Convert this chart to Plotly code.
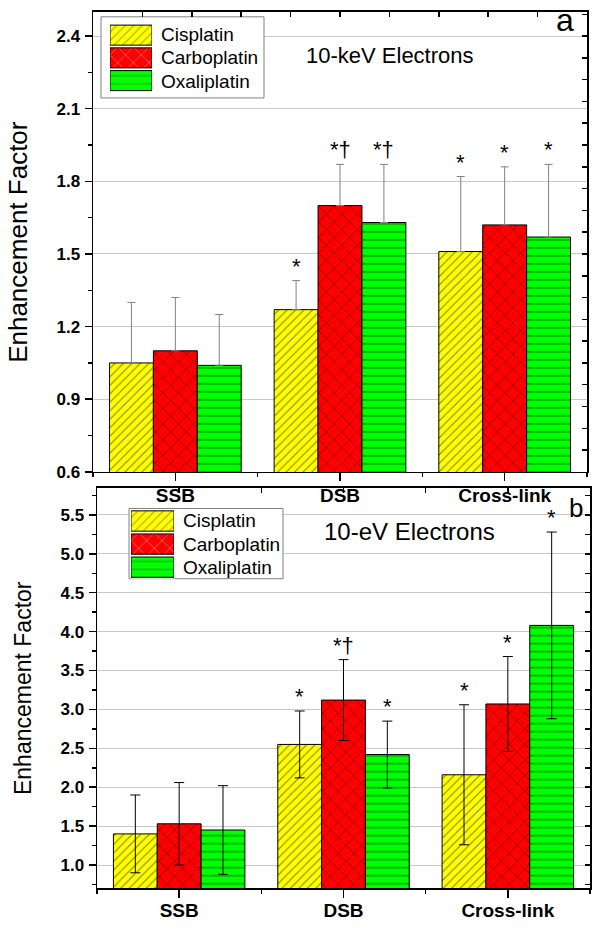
import plotly.graph_objects as go

# ---------------- data ----------------
categories = ["SSB", "DSB", "Cross-link"]
drugs = ["Cisplatin", "Carboplatin", "Oxaliplatin"]
colors = ["#FFFF00", "#FF0000", "#00FF00"]
patterns = ["/", "x", "-"]

# Panel a: 10-keV electrons
kev_cis = [1.05, 1.27, 1.51]
kev_carbo = [1.10, 1.70, 1.62]
kev_oxa = [1.04, 1.63, 1.57]
kev_cis_err = [0.25, 0.12, 0.31]
kev_carbo_err = [0.22, 0.17, 0.24]
kev_oxa_err = [0.21, 0.24, 0.30]
kev_cis_sig = ["", "*", "*"]
kev_carbo_sig = ["", "*†", "*"]
kev_oxa_sig = ["", "*†", "*"]

# Panel b: 10-eV electrons
ev_cis = [1.40, 2.55, 2.16]
ev_carbo = [1.53, 3.12, 3.07]
ev_oxa = [1.45, 2.42, 4.08]
ev_cis_err = [0.50, 0.43, 0.90]
ev_carbo_err = [0.53, 0.52, 0.61]
ev_oxa_err = [0.57, 0.43, 1.20]
ev_cis_sig = ["", "*", "*"]
ev_carbo_sig = ["", "*†", "*"]
ev_oxa_sig = ["", "*", "*"]

kev_vals = [kev_cis, kev_carbo, kev_oxa]
kev_errs = [kev_cis_err, kev_carbo_err, kev_oxa_err]
kev_sigs = [kev_cis_sig, kev_carbo_sig, kev_oxa_sig]
ev_vals = [ev_cis, ev_carbo, ev_oxa]
ev_errs = [ev_cis_err, ev_carbo_err, ev_oxa_err]
ev_sigs = [ev_cis_sig, ev_carbo_sig, ev_oxa_sig]

# ---------------- layout helpers ----------------
W, H = 602, 931
FONT = "Liberation Sans"
BARGAP = 0.2


def px(x):
    return x / W


def py(y):
    return 1 - y / H


# plot areas in pixels (left, right, top, bottom) and their data ranges
A = dict(l=93, r=587, t=12, b=477, x0=-0.5, x1=2.5, y0=0.6, y1=2.5)
B = dict(l=97, r=590, t=493, b=898, x0=-0.5, x1=2.5, y0=0.7, y1=5.85)

pos = list(range(len(categories)))
pat_size = [6, 11, 8]
pat_solid = [0.17, 0.12, 0.14]

fig = go.Figure()


def add_panel(vals, errs, xa, ya, err_style):
    for j, name in enumerate(drugs):
        fig.add_trace(go.Bar(
            x=pos, y=vals[j], name=name, offsetgroup=str(j),
            xaxis=xa, yaxis=ya, showlegend=False,
            marker=dict(color=colors[j],
                        line=dict(color="black", width=1),
                        pattern=dict(shape=patterns[j], fgcolor="black",
                                     size=pat_size[j], solidity=pat_solid[j])),
            error_y=dict(type="data", array=errs[j], **err_style),
        ))


add_panel(kev_vals, kev_errs, "x", "y",
          dict(symmetric=False, arrayminus=[0] * 3, color="#808080",
               thickness=1, width=4))
add_panel(ev_vals, ev_errs, "x2", "y2",
          dict(symmetric=True, color="black", thickness=1, width=5))

# legend swatches drawn as bars on small hidden axes
for xa, ya in (("x3", "y3"), ("x4", "y4")):
    fig.add_trace(go.Bar(
        orientation="h", y=list(range(len(drugs))), x=[1] * len(drugs),
        width=0.88, xaxis=xa, yaxis=ya, showlegend=False, hoverinfo="skip",
        marker=dict(color=colors, line=dict(color="black", width=1),
                    pattern=dict(shape=patterns, fgcolor="black",
                                 size=pat_size, solidity=pat_solid)),
    ))

# dummy traces so overlay tick axes get drawn
for xa, ya in (("x5", "y5"), ("x6", "y6")):
    fig.add_trace(go.Scatter(x=[None], y=[None], xaxis=xa, yaxis=ya,
                             showlegend=False, hoverinfo="skip"))

tickfont_y = dict(family=FONT, size=17, color="black", weight="bold")
tickfont_x = dict(family=FONT, size=19, color="black", weight="bold")


def xdict(dom, anchor, standoff):
    return dict(range=[-0.5, 2.5], tickmode="array", tickvals=pos,
                ticktext=categories, ticks="outside", ticklen=8,
                tickwidth=1.5, tickcolor="black", showline=True,
                linecolor="black", linewidth=1.5, mirror=True,
                showgrid=False, zeroline=False, tickfont=tickfont_x,
                ticklabelstandoff=standoff, domain=dom, anchor=anchor,
                minor=dict(tickmode="linear", tick0=-0.5, dtick=1,
                           ticks="outside", ticklen=4, tickcolor="black",
                           showgrid=False))


def ydict(rng, tick0, dtick, mdtick, dom, anchor):
    return dict(range=rng, tick0=tick0, dtick=dtick, tickformat=".1f",
                ticks="outside", ticklen=7, tickwidth=1.5, tickcolor="black",
                showline=True, linecolor="black", linewidth=1.5, mirror=True,
                showgrid=True, gridcolor="#c8c8c8", gridwidth=1,
                zeroline=False, tickfont=tickfont_y, ticklabelstandoff=1,
                domain=dom, anchor=anchor,
                minor=dict(tick0=0, dtick=mdtick, ticks="outside", ticklen=4,
                           tickcolor="black", showgrid=False))


def hidden(dom, rng, anchor, rev=False):
    d = dict(domain=dom, range=rng, visible=False, anchor=anchor,
             fixedrange=True)
    if rev:
        d["range"] = rng[::-1]
    return d


def inside_ticks(over, anchor, side, rng, tick0, dtick):
    return dict(overlaying=over, anchor=anchor, side=side, range=rng,
                tick0=tick0, dtick=dtick, ticks="inside", ticklen=5,
                tickwidth=1.5, tickcolor="black", showticklabels=False,
                showgrid=False, showline=False, zeroline=False)


fig.update_layout(
    width=W, height=H, autosize=False,
    margin=dict(l=0, r=0, t=0, b=0),
    paper_bgcolor="white", plot_bgcolor="white",
    barmode="group", bargap=BARGAP, bargroupgap=0,
    showlegend=False,
    xaxis=xdict([px(A["l"]), px(A["r"])], "y", -2),
    yaxis=ydict([A["y0"], A["y1"]], 0.6, 0.3, 0.15,
                [py(A["b"]), py(A["t"])], "x"),
    xaxis2=xdict([px(B["l"]), px(B["r"])], "y2", -4),
    yaxis2=ydict([B["y0"], B["y1"]], 1.0, 0.5, 0.25,
                 [py(B["b"]), py(B["t"])], "x2"),
    # legend swatch axes
    xaxis3=hidden([px(110), px(152)], [0, 1], "y3"),
    yaxis3=hidden([py(93), py(24)], [-0.5, 2.5], "x3", rev=True),
    xaxis4=hidden([px(131), px(174)], [0, 1], "y4"),
    yaxis4=hidden([py(585), py(515)], [-0.5, 2.5], "x4", rev=True),
    # mirrored inside ticks (top and right)
    xaxis5=inside_ticks("x", "y", "top", [0, 10], 0, 1),
    yaxis5=inside_ticks("y", "x", "right", [A["y0"], A["y1"]], 0.6, 0.09),
    xaxis6=inside_ticks("x2", "y2", "top", [-0.5, 2.5], -0.5, 0.5),
    yaxis6=inside_ticks("y2", "x2", "right", [B["y0"], B["y1"]], 0.75, 0.25),
)


# legend boxes (above gridlines, below bars) in data coordinates
def dx(x, P):
    return P["x0"] + (x - P["l"]) / (P["r"] - P["l"]) * (P["x1"] - P["x0"])


def dy(y, P):
    return P["y0"] + (P["b"] - y) / (P["b"] - P["t"]) * (P["y1"] - P["y0"])


for P, xr, yr, box in ((A, "x", "y", (101, 264, 17, 99)),
                       (B, "x2", "y2", (129, 283, 514, 585))):
    fig.add_shape(type="rect", xref=xr, yref=yr, layer="between",
                  x0=dx(box[0], P), x1=dx(box[1], P),
                  y0=dy(box[3], P), y1=dy(box[2], P),
                  fillcolor="white", line=dict(color="#808080", width=1))

ann = []
# legend labels
for rows, x0 in (((34.5, 58.5, 82.5), 159), ((526, 550, 574), 181)):
    for name, yy in zip(drugs, rows):
        ann.append(dict(x=px(x0), y=py(yy), xref="paper", yref="paper",
                        text=name, showarrow=False, xanchor="left",
                        yanchor="middle",
                        font=dict(family=FONT, size=19, color="black")))

# significance marks
bw = (1 - BARGAP) / len(drugs)
for sigs, vals, errs, xr, yr in ((kev_sigs, kev_vals, kev_errs, "x", "y"),
                                 (ev_sigs, ev_vals, ev_errs, "x2", "y2")):
    for j in range(len(drugs)):
        for i in pos:
            if sigs[j][i]:
                ann.append(dict(x=i + (j - 1) * bw, y=vals[j][i] + errs[j][i],
                                xref=xr, yref=yr, text=sigs[j][i],
                                showarrow=False, yanchor="bottom", yshift=0,
                                font=dict(family=FONT, size=22, color="black")))

# titles / panel labels
ann += [
    dict(x=px(18), y=py((A["t"] + A["b"]) / 2), xref="paper", yref="paper",
         text="Enhancement Factor", textangle=-90, showarrow=False,
         xanchor="center", yanchor="middle",
         font=dict(family=FONT, size=26, color="black")),
    dict(x=px(23), y=py((B["t"] + B["b"]) / 2), xref="paper", yref="paper",
         text="Enhancement Factor", textangle=-90, showarrow=False,
         xanchor="center", yanchor="middle",
         font=dict(family=FONT, size=23, color="black")),
    dict(x=px(390), y=py(56), xref="paper", yref="paper",
         text="10-keV Electrons", showarrow=False, xanchor="center",
         yanchor="middle", font=dict(family=FONT, size=22, color="black")),
    dict(x=px(409), y=py(537), xref="paper", yref="paper",
         text="10-eV Electrons", showarrow=False, xanchor="center",
         yanchor="middle", font=dict(family=FONT, size=24, color="black")),
    dict(x=px(565), y=py(20), xref="paper", yref="paper", text="a",
         showarrow=False, xanchor="center", yanchor="middle",
         font=dict(family=FONT, size=32, color="black")),
    dict(x=px(576), y=py(514), xref="paper", yref="paper", text="b",
         showarrow=False, xanchor="center", yanchor="middle",
         font=dict(family=FONT, size=26, color="black")),
]
fig.update_layout(annotations=ann)

fig.write_html("out.html",
               config={"responsive": False, "displayModeBar": False,
                       "staticPlot": True},
               post_script="document.body.style.margin='0';"
                           "document.body.style.padding='0';")
